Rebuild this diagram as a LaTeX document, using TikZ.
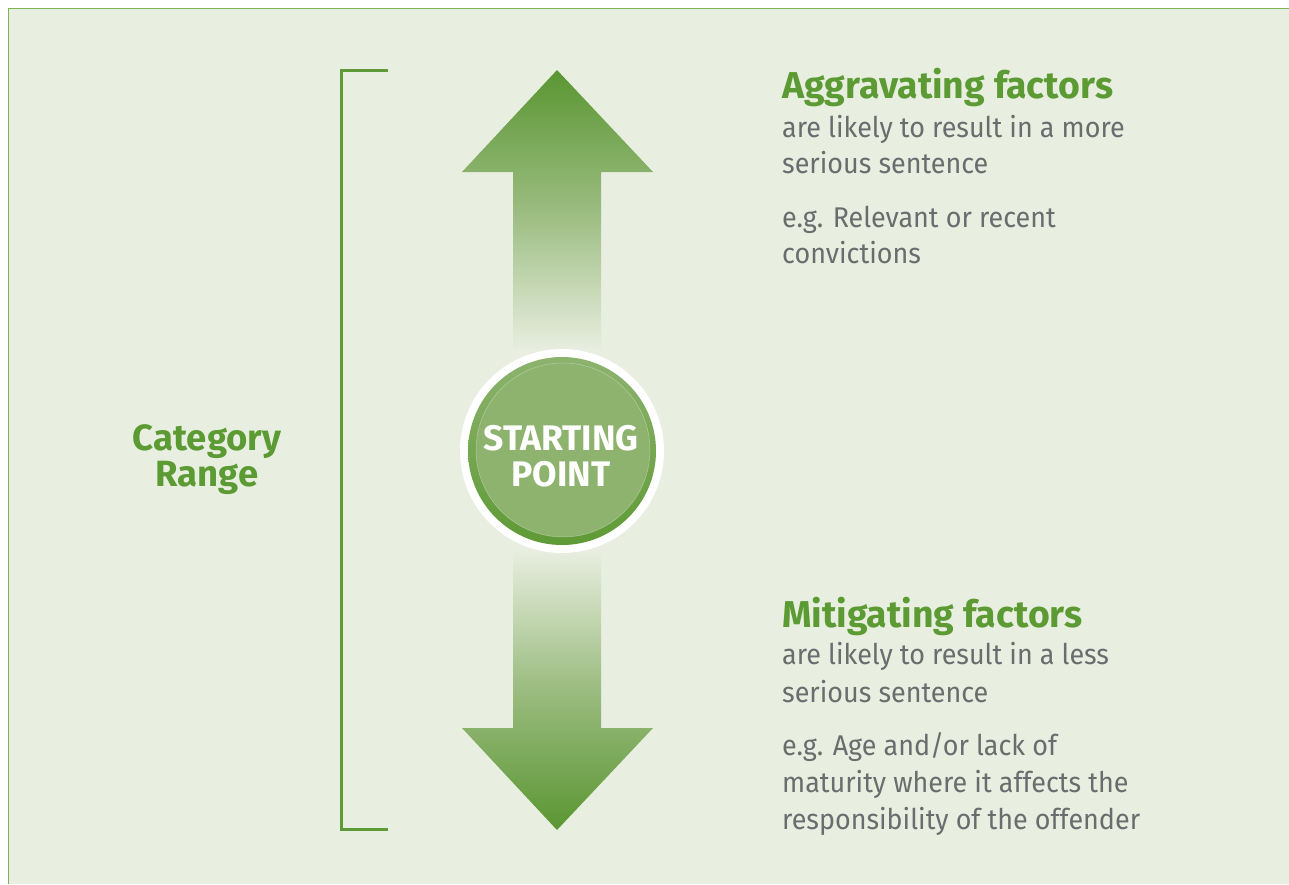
\documentclass[tikz,border=0pt]{standalone}
\usepackage{fontspec}
\setmainfont{Fira Sans}
\newfontfamily\fbody{Fira Sans}[FakeStretch=0.945]
\usetikzlibrary{calc}
\definecolor{bg}{HTML}{E8EEE0}
\definecolor{frame}{HTML}{7CB356}
\definecolor{dgreen}{HTML}{5A9632}
\definecolor{hgreen}{HTML}{5C9B34}
\definecolor{cgreen}{HTML}{8DB36E}
\definecolor{rgreen}{HTML}{5E9A35}
\definecolor{txt}{HTML}{6A6C6E}
\tikzset{
  headtxt/.style={anchor=base west,inner sep=0pt,text=hgreen,font=\bfseries\fontsize{37.4}{42}\selectfont},
  bodytxt/.style={anchor=base west,inner sep=0pt,text=txt,font=\fbody\fontsize{28.5}{36}\selectfont},
  cattxt/.style={anchor=base,inner sep=0pt,text=hgreen,font=\bfseries\fontsize{36.5}{42}\selectfont},
  cirtxt/.style={anchor=base,inner sep=0pt,text=white,font=\bfseries\fontsize{35.5}{40}\selectfont},
  bracketline/.style={draw=rgreen,line width=3pt},
}
\begin{document}
\begin{tikzpicture}[x=1pt,y=-1pt]
\useasboundingbox (0,0) rectangle (1289,884);
\fill[white] (0,0) rectangle (1289,884);
\fill[bg] (8.5,8.5) rectangle (1289,884);
\draw[frame,line width=1.5pt] (8.5,884) -- (8.5,8.5) -- (1289,8.5);

% bracket
\coordinate (b1) at (388,70);
\coordinate (b2) at (341,70);
\coordinate (b3) at (341,829);
\coordinate (b4) at (388,829);
\draw[bracketline] (b1) -- (b2) -- (b3) -- (b4);

% arrows
\shade[top color=dgreen,bottom color=bg,middle color=cgreen!85!bg]
  (557,70) -- (653,172) -- (601,172) -- (601,350) -- (513,350) -- (513,172) -- (462,172) -- cycle;
\shade[bottom color=dgreen,top color=bg,middle color=cgreen!85!bg]
  (557,830) -- (653,728) -- (601,728) -- (601,550) -- (513,550) -- (513,728) -- (462,728) -- cycle;

% circle
\fill[white] (562,451) circle (102);
\shade[top color=cgreen,bottom color=rgreen] (562,451) circle (94);
\fill[cgreen] (563,450) circle (87);
\draw[white,opacity=0.35,line width=0.5pt] (563,450) circle (87);
\node[cirtxt] (sp1) at (561,450) {STARTING};
\node[cirtxt] (sp2) at (561,486) {POINT};

% category
\node[cattxt] (c1) at (207,450) {Category};
\node[cattxt] (c2) at (207,486) {Range};

% aggravating
\node[headtxt] (ag) at (782,98) {Aggravating factors};
\node[bodytxt] (ag1) at (782,137) {are likely to result in a more};
\node[bodytxt] (ag2) at (782,173) {serious sentence};
\node[bodytxt] (ag3) at (782,227) {e.g. Relevant or recent};
\node[bodytxt] (ag4) at (782,263) {convictions};

% mitigating
\node[headtxt] (mi) at (782,627) {Mitigating factors};
\node[bodytxt] (mi1) at (782,664) {are likely to result in a less};
\node[bodytxt] (mi2) at (782,702) {serious sentence};
\node[bodytxt] (mi3) at (782,755) {e.g. Age and/or lack of};
\node[bodytxt] (mi4) at (782,792) {maturity where it affects the};
\node[bodytxt] (mi5) at (782,829) {responsibility of the offender};
\end{tikzpicture}
\end{document}
